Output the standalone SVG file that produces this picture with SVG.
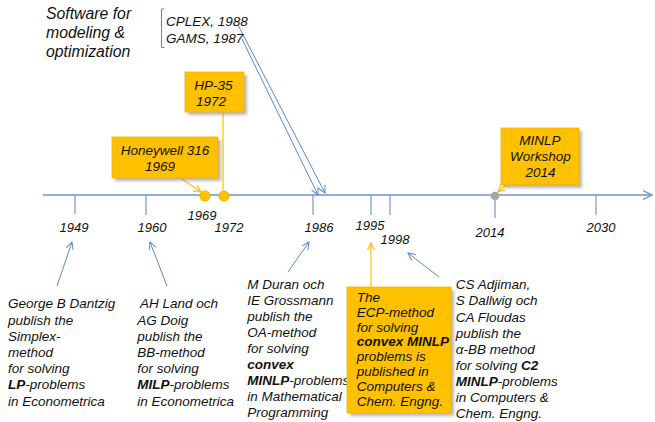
<svg xmlns="http://www.w3.org/2000/svg" width="655" height="422" viewBox="0 0 655 422">
  <style>
    text { font-family: "Liberation Sans", Arial, sans-serif; font-style: italic; fill: #111; }
    .yr { font-size: 13px; }
    .t13 { font-size: 13.5px; }
    .t135 { font-size: 13.5px; }
    .t16 { font-size: 15.8px; }
    .b { font-weight: bold; }
    .mid { text-anchor: middle; }
    .axis { stroke: #6A92CB; stroke-width: 1.3; fill: none; }
    .tick { stroke: #7EA0D2; stroke-width: 1.3; fill: none; }
    .blue { stroke: #5B87C8; stroke-width: 1; fill: none; }
    .gold { stroke: #FFC000; stroke-width: 1.2; fill: none; }
    .box { fill: #FFC000; stroke: #F0B400; stroke-width: 0.8; }
    .shadow { fill: #7F7F7F; opacity: 0.55; filter: url(#soft); }
  </style>
  <defs>
    <filter id="soft" x="-20%" y="-20%" width="140%" height="140%">
      <feGaussianBlur stdDeviation="1.5"/>
    </filter>
    <marker id="vBlue" viewBox="0 0 10 10" refX="9" refY="5" markerWidth="9" markerHeight="9" orient="auto" markerUnits="userSpaceOnUse">
      <path d="M1,1 L9,5 L1,9" fill="none" stroke="#5B87C8" stroke-width="1.1"/>
    </marker>
    <marker id="vAxis" viewBox="0 0 10 10" refX="9" refY="5" markerWidth="11" markerHeight="11" orient="auto" markerUnits="userSpaceOnUse">
      <path d="M1,1 L9,5 L1,9" fill="none" stroke="#6A92CB" stroke-width="1.1"/>
    </marker>
    <marker id="vGold" viewBox="0 0 10 10" refX="9" refY="5" markerWidth="9" markerHeight="9" orient="auto" markerUnits="userSpaceOnUse">
      <path d="M1,1 L9,5 L1,9" fill="none" stroke="#FFC000" stroke-width="1.3"/>
    </marker>
  </defs>

  <!-- time axis with year ticks -->
  <g id="timeline">
    <line class="axis" x1="43" y1="195" x2="652" y2="195" marker-end="url(#vAxis)"/>
    <line class="tick" x1="75" y1="195" x2="75" y2="214"/>
    <line class="tick" x1="146" y1="195" x2="146" y2="215"/>
    <line class="tick" x1="313" y1="195" x2="313" y2="215"/>
    <line class="tick" x1="371" y1="195" x2="371" y2="215"/>
    <line class="tick" x1="390" y1="195" x2="390" y2="215"/>
    <line class="tick" x1="495" y1="195" x2="495" y2="218"/>
    <line class="tick" x1="596" y1="195" x2="596" y2="215"/>
    <text class="yr mid" x="74" y="232">1949</text>
    <text class="yr mid" x="152" y="232">1960</text>
    <text class="yr mid" x="202" y="220">1969</text>
    <text class="yr mid" x="229" y="232">1972</text>
    <text class="yr mid" x="319" y="232">1986</text>
    <text class="yr mid" x="370" y="230">1995</text>
    <text class="yr mid" x="395" y="244">1998</text>
    <text class="yr mid" x="490" y="237">2014</text>
    <text class="yr mid" x="601" y="232">2030</text>
  </g>

  <!-- connectors -->
  <g id="connectors">
    <line class="blue" x1="238" y1="25" x2="325" y2="193" marker-end="url(#vBlue)"/>
    <line class="blue" x1="242" y1="39" x2="318" y2="195" marker-end="url(#vBlue)"/>
    <line class="gold" x1="182" y1="179" x2="201" y2="192" marker-end="url(#vGold)"/>
    <line class="gold" x1="223" y1="112" x2="223" y2="190"/>
    <line class="gold" x1="506" y1="185" x2="498" y2="192" marker-end="url(#vGold)"/>
    <line class="gold" x1="371" y1="287" x2="371" y2="243" marker-end="url(#vGold)"/>
    <line class="blue" x1="57" y1="286" x2="72" y2="242" marker-end="url(#vBlue)"/>
    <line class="blue" x1="167" y1="286" x2="150" y2="242" marker-end="url(#vBlue)"/>
    <line class="blue" x1="288" y1="272" x2="309" y2="242" marker-end="url(#vBlue)"/>
    <line class="blue" x1="439" y1="277" x2="408" y2="253" marker-end="url(#vBlue)"/>
  </g>

  <!-- event markers on the axis -->
  <g id="dots">
    <circle cx="205" cy="196" r="5.2" fill="#FFC000" stroke="#F0B000" stroke-width="0.8"/>
    <circle cx="224" cy="196" r="5.2" fill="#FFC000" stroke="#F0B000" stroke-width="0.8"/>
    <circle cx="495" cy="196" r="4.3" fill="#A6A6A6"/>
  </g>

  <g id="software">
    <text class="t16" x="46"><tspan x="46" y="19.3">Software for</tspan><tspan x="46" y="38">modeling &amp;</tspan><tspan x="46" y="56.7">optimization</tspan></text>
  </g>

  <g id="cplex-gams">
    <path class="blue" d="M164.5,9 H161.5 V47.5 H164.5"/>
    <text class="t135" x="166" y="26">CPLEX, 1988</text>
    <text class="t135" x="166" y="42.5">GAMS, 1987</text>
  </g>

  <g id="honeywell">
    <rect class="shadow" x="115" y="140" width="106" height="41"/>
    <rect class="box" x="112" y="137" width="106" height="41"/>
    <text class="t135" x="120.7" y="155">Honeywell 316</text>
    <text class="t135" x="145" y="170.5">1969</text>
  </g>

  <g id="hp35">
    <rect class="shadow" x="188" y="75" width="59" height="40"/>
    <rect class="box" x="185" y="72" width="59" height="40"/>
    <text class="t135" x="194.3" y="90">HP-35</text>
    <text class="t135" x="196" y="105.7">1972</text>
  </g>

  <g id="minlp-workshop">
    <rect class="shadow" x="504" y="131" width="78" height="57"/>
    <rect class="box" x="501" y="128" width="78" height="57"/>
    <text class="t135 mid" x="540" y="144.5">MINLP</text>
    <text class="t135 mid" x="540.5" y="160.5">Workshop</text>
    <text class="t135 mid" x="540.5" y="176.5">2014</text>
  </g>

  <g id="dantzig">
    <text class="t13">
      <tspan x="8" y="308.3">George B Dantzig</tspan>
      <tspan x="8" y="324.5">publish the</tspan>
      <tspan x="8" y="340.7">Simplex-</tspan>
      <tspan x="8" y="356.9">method</tspan>
      <tspan x="8" y="373.1">for solving</tspan>
      <tspan x="8" y="389.3" class="b">LP</tspan><tspan>-problems</tspan>
      <tspan x="8" y="405.5">in Econometrica</tspan>
    </text>
  </g>

  <g id="land-doig">
    <text class="t13">
      <tspan x="140" y="308.3">AH Land och</tspan>
      <tspan x="137.3" y="324.5">AG Doig</tspan>
      <tspan x="137.3" y="340.7">publish the</tspan>
      <tspan x="137.3" y="356.9">BB-method</tspan>
      <tspan x="137.3" y="373.1">for solving</tspan>
      <tspan x="137.3" y="389.3" class="b">MILP</tspan><tspan>-problems</tspan>
      <tspan x="137.3" y="405.5">in Econometrica</tspan>
    </text>
  </g>

  <g id="duran-grossmann">
    <text class="t13">
      <tspan x="247.3" y="289.3">M Duran och</tspan>
      <tspan x="247.3" y="305.3">IE Grossmann</tspan>
      <tspan x="247.3" y="321.3">publish the</tspan>
      <tspan x="247.3" y="337.3">OA-method</tspan>
      <tspan x="247.3" y="353.3">for solving</tspan>
      <tspan x="247.3" y="369.3" class="b">convex</tspan>
      <tspan x="247.3" y="385.3" class="b">MINLP</tspan><tspan>-problems</tspan>
      <tspan x="247.3" y="401.3">in Mathematical</tspan>
      <tspan x="247.3" y="417.3">Programming</tspan>
    </text>
  </g>

  <g id="ecp">
    <rect class="shadow" x="350" y="290" width="104" height="126"/>
    <rect class="box" x="347" y="287" width="104" height="126"/>
    <text class="t13">
      <tspan x="356.7" y="301.7">The</tspan>
      <tspan x="356.7" y="316.6">ECP-method</tspan>
      <tspan x="356.7" y="331.5">for solving</tspan>
      <tspan x="356.7" y="346.3" class="b">convex MINLP</tspan>
      <tspan x="356.7" y="361.2">problems is</tspan>
      <tspan x="356.7" y="376.1">published in</tspan>
      <tspan x="356.7" y="391">Computers &amp;</tspan>
      <tspan x="356.7" y="405.9">Chem. Engng.</tspan>
    </text>
  </g>

  <g id="adjiman">
    <text class="t13">
      <tspan x="455.7" y="289.3">CS Adjiman,</tspan>
      <tspan x="455.7" y="305.4">S Dallwig och</tspan>
      <tspan x="455.7" y="321.5">CA Floudas</tspan>
      <tspan x="455.7" y="337.6">publish the</tspan>
      <tspan x="455.7" y="353.7">α-BB method</tspan>
      <tspan x="455.7" y="369.8">for solving </tspan><tspan class="b">C2</tspan>
      <tspan x="455.7" y="385.9" class="b">MINLP</tspan><tspan>-problems</tspan>
      <tspan x="455.7" y="402">in Computers &amp;</tspan>
      <tspan x="455.7" y="418.1">Chem. Engng.</tspan>
    </text>
  </g>
</svg>
